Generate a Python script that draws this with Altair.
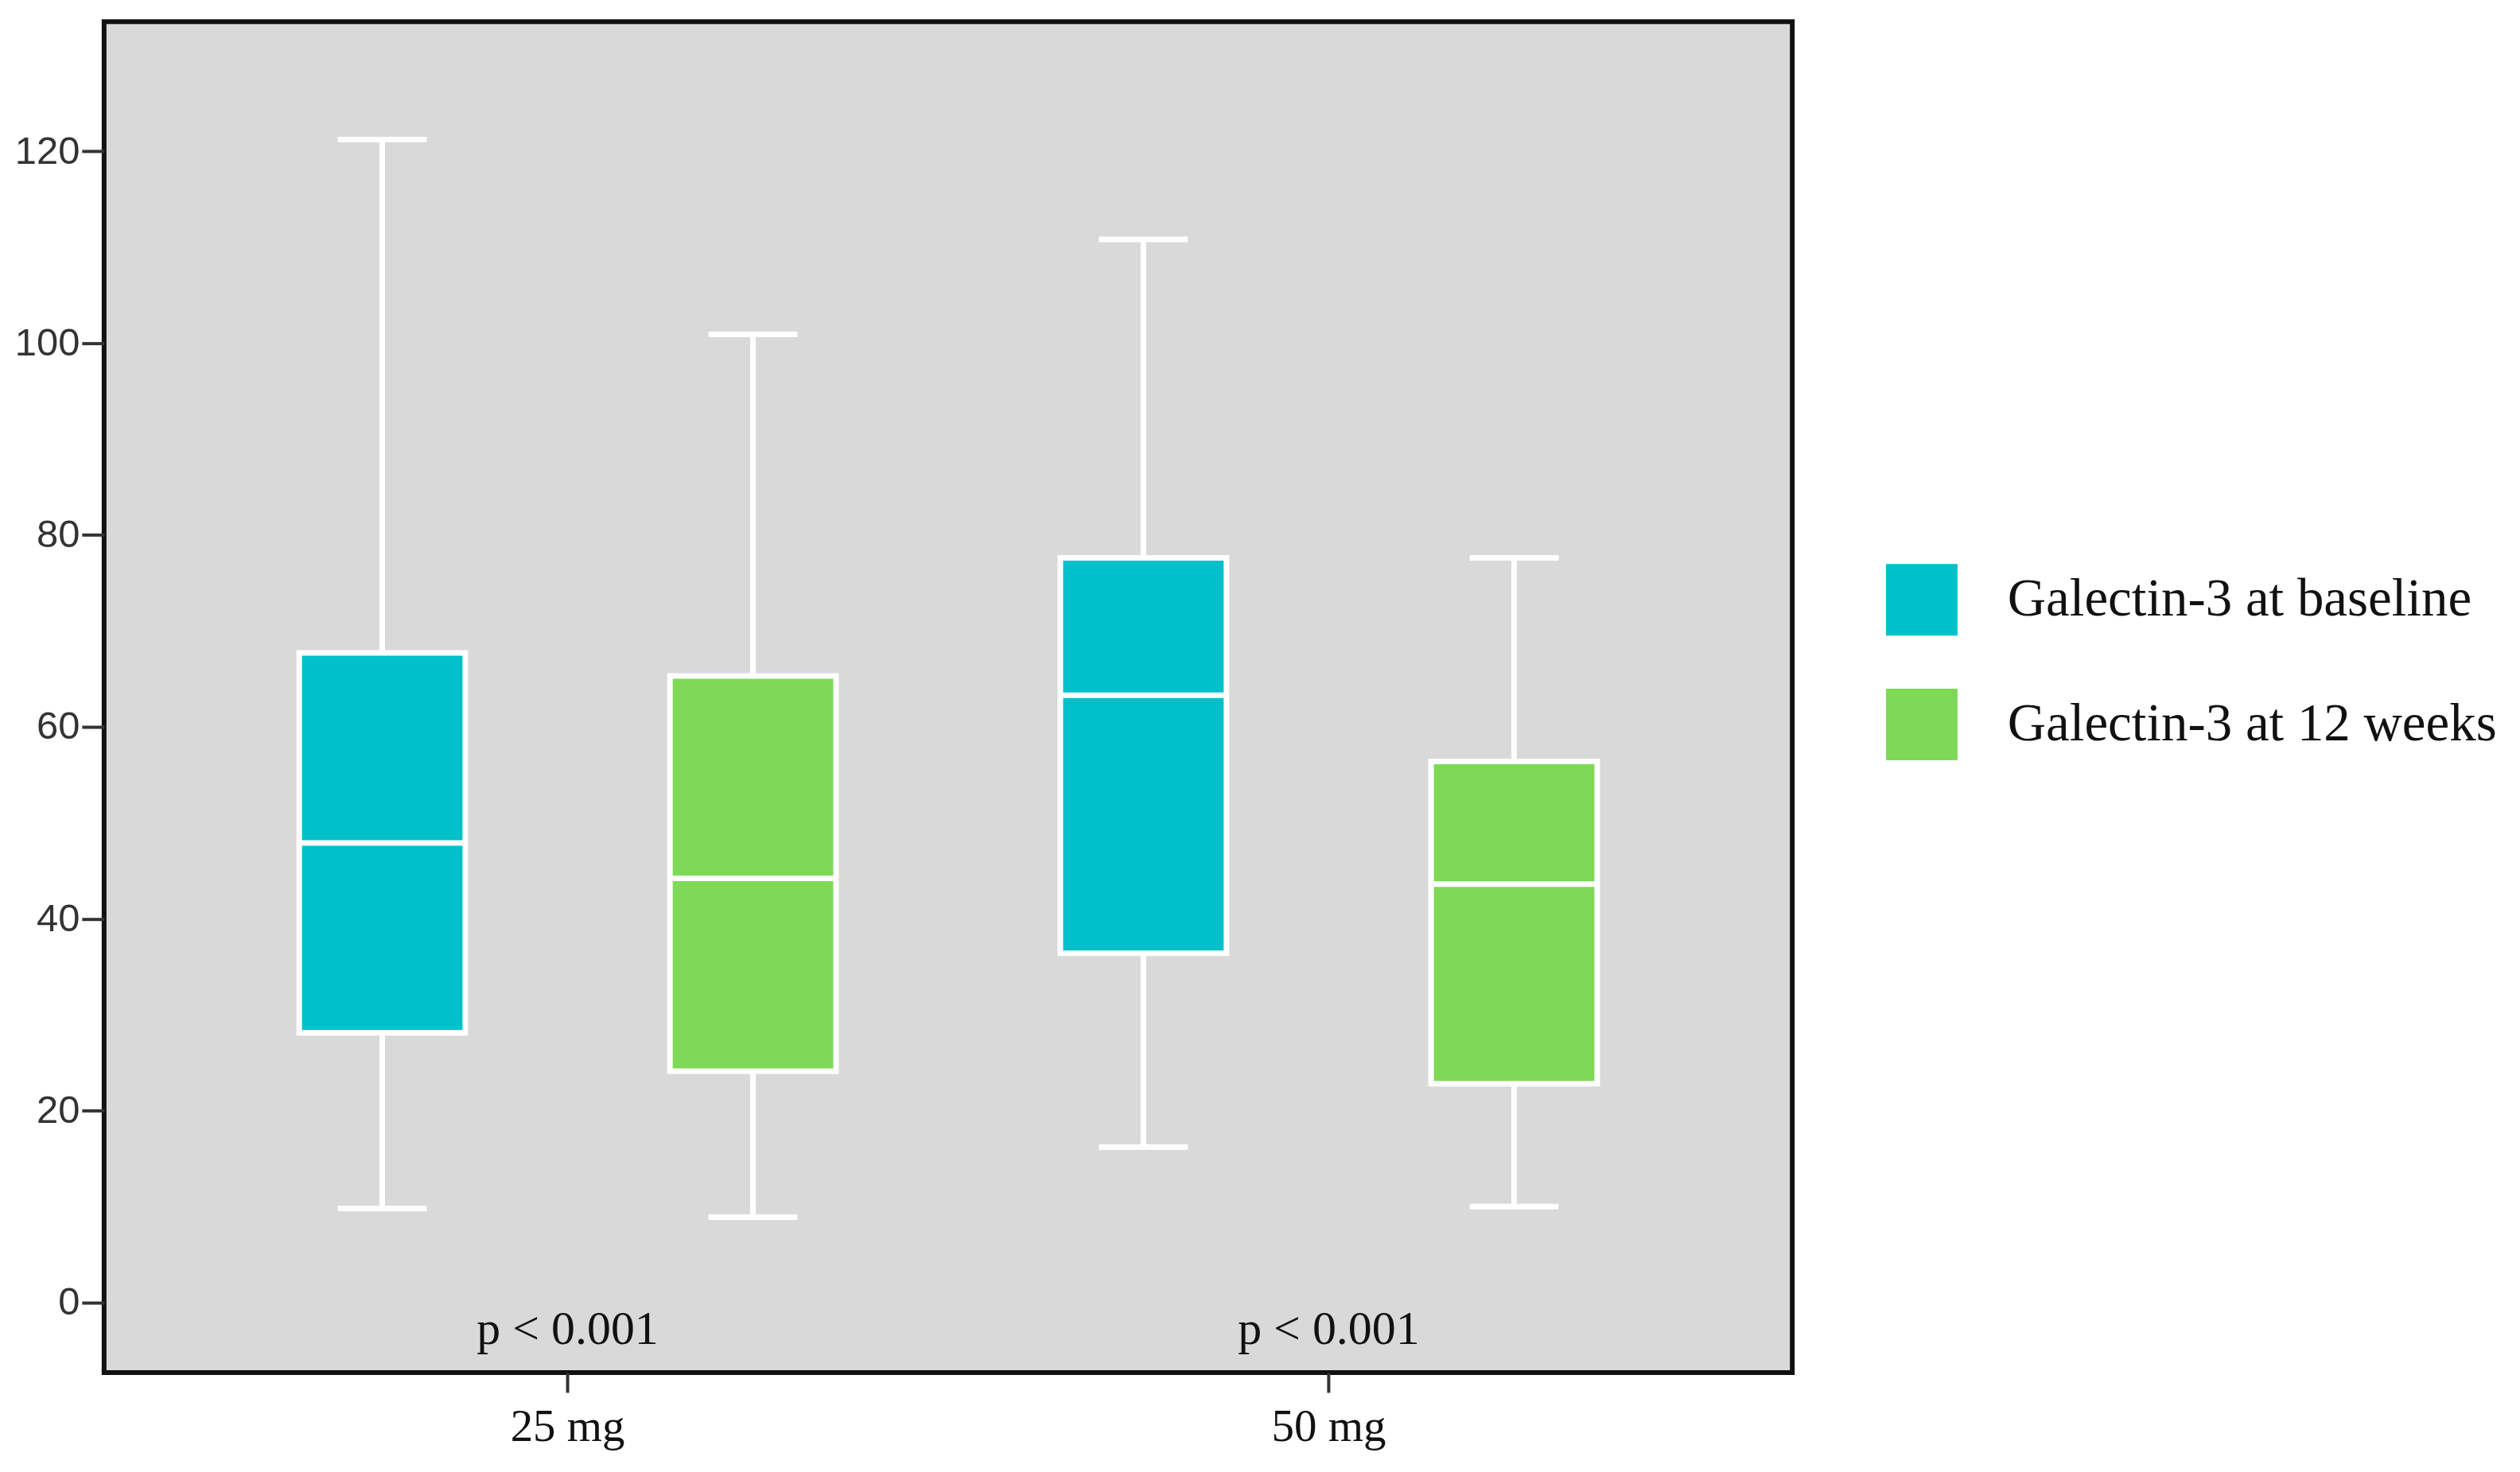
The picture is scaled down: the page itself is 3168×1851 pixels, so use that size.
import altair as alt
import pandas as pd

doses = ["25 mg", "25 mg", "50 mg", "50 mg"]
groups = ["Galectin-3 at baseline", "Galectin-3 at 12 weeks",
          "Galectin-3 at baseline", "Galectin-3 at 12 weeks"]
whisker_low = [9.8, 8.9, 16.2, 10.0]
q1 = [28.1, 24.1, 36.4, 22.8]
median = [47.9, 44.2, 63.3, 43.6]
q3 = [67.7, 65.3, 77.6, 56.4]
whisker_high = [121.2, 100.9, 110.8, 77.6]

dose_order = ["25 mg", "50 mg"]
group_order = ["Galectin-3 at baseline", "Galectin-3 at 12 weeks"]
group_colors = ["#00C1CA", "#7ED957"]

p_doses = ["25 mg", "50 mg"]
p_labels = ["p < 0.001", "p < 0.001"]
p_label_y = -2.8

y_ticks = [0, 20, 40, 60, 80, 100, 120]

df = pd.DataFrame({
    "dose": doses, "group": groups, "lo": whisker_low, "q1": q1,
    "med": median, "q3": q3, "hi": whisker_high,
})
pdf = pd.DataFrame({"dose": p_doses, "label": p_labels})

x_enc = alt.X("dose:N", sort=dose_order,
              scale=alt.Scale(domain=dose_order, paddingInner=0, paddingOuter=0.109),
              axis=alt.Axis(title=None, labelAngle=0, domain=False, grid=False,
                            labelFont="Liberation Serif", labelFontSize=57,
                            labelColor="#111", tickSize=25, tickWidth=4,
                            tickColor="#333", labelPadding=16))
xo_enc = alt.XOffset("group:N", sort=group_order,
                     scale=alt.Scale(domain=group_order, paddingInner=0.552,
                                     paddingOuter=0.3025))
y_scale = alt.Scale(domain=[-7.3, 133.5], nice=False, zero=False)
y_axis = alt.Axis(title=None, values=y_ticks, domain=False, grid=False,
                  labelFont="Liberation Sans", labelFontSize=49, labelColor="#333",
                  tickSize=28, tickWidth=4, tickColor="#333", labelPadding=3)

base = alt.Chart(df)

whisker = base.mark_rule(color="white", strokeWidth=7).encode(
    x=x_enc, xOffset=xo_enc,
    y=alt.Y("lo:Q", scale=y_scale, axis=y_axis), y2="hi:Q")

box = base.mark_bar(stroke="white", strokeWidth=7, opacity=1).encode(
    x=x_enc, xOffset=xo_enc,
    y=alt.Y("q1:Q", scale=y_scale, axis=y_axis), y2="q3:Q",
    color=alt.Color("group:N", sort=group_order,
                    scale=alt.Scale(domain=group_order, range=group_colors),
                    legend=alt.Legend(title=None, orient="none", legendX=2243,
                                      legendY=683, symbolType="square",
                                      symbolSize=8100, symbolStrokeWidth=0,
                                      symbolOpacity=1,
                                      labelFont="Liberation Serif",
                                      labelFontSize=67, labelColor="#111",
                                      labelOffset=63, rowPadding=67,
                                      padding=0, labelLimit=1000)))

med_line = base.mark_tick(color="white", thickness=7, size=212, opacity=1).encode(
    x=x_enc, xOffset=xo_enc, y=alt.Y("med:Q", scale=y_scale, axis=y_axis))

cap_hi = base.mark_tick(color="white", thickness=7, size=112, opacity=1).encode(
    x=x_enc, xOffset=xo_enc, y=alt.Y("hi:Q", scale=y_scale, axis=y_axis))
cap_lo = base.mark_tick(color="white", thickness=7, size=112, opacity=1).encode(
    x=x_enc, xOffset=xo_enc, y=alt.Y("lo:Q", scale=y_scale, axis=y_axis))

ptext = alt.Chart(pdf).mark_text(font="Liberation Serif", fontSize=60,
                                 color="#111", baseline="middle").encode(
    x=x_enc, y=alt.datum(p_label_y, scale=y_scale), text="label:N")

chart = alt.layer(whisker, box, med_line, cap_hi, cap_lo, ptext).properties(
    width=2125, height=1701,
    autosize=alt.AutoSizeParams(type="none"),
    padding={"left": 123, "top": 18, "right": 908, "bottom": 110},
    background="white",
).configure_view(stroke="#111", strokeWidth=6, fill="#d9d9d9")

chart.save("out.html", embed_options={"renderer": "svg", "actions": False})
